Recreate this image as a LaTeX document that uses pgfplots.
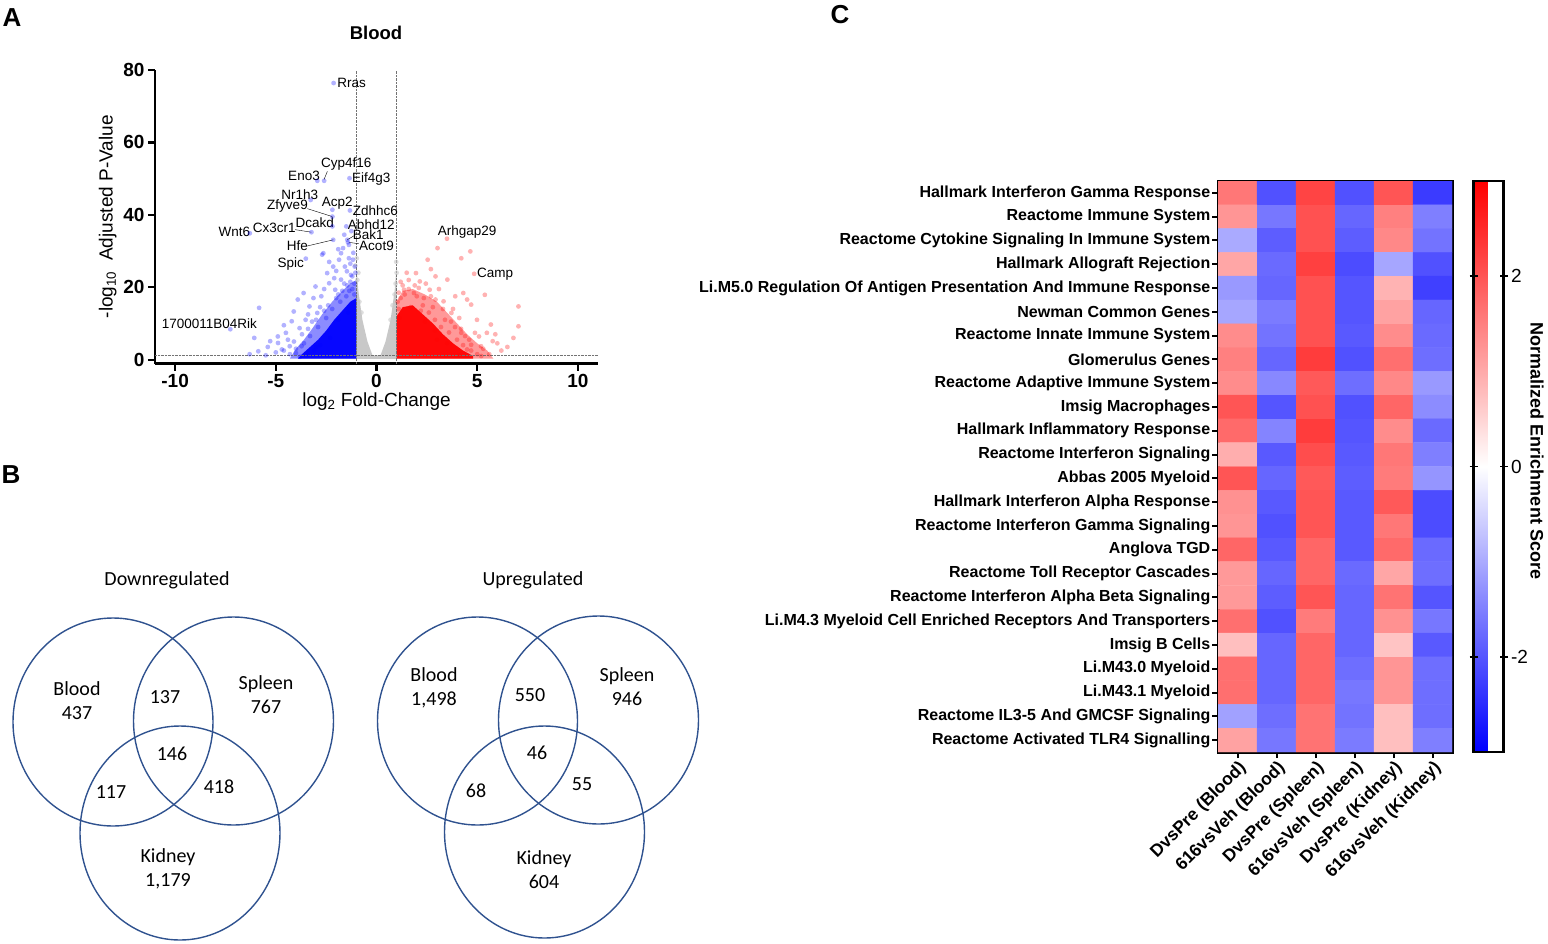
\documentclass[border=0pt]{standalone}
\usepackage{fontspec}
\setmainfont{Liberation Sans}
\newfontfamily\venn{Carlito}
\usepackage{pgfplots}
\pgfplotsset{compat=1.18}
\definecolor{vennblue}{RGB}{47,82,143}
\definecolor{nsgray}{RGB}{200,200,200}
\pgfplotsset{colormap={bwr}{rgb255=(0,0,255) rgb255=(255,255,255) rgb255=(255,0,0)}}
\newcommand{\gl}{\fontsize{13.5}{14}\selectfont}
\begin{document}
\begin{tikzpicture}
\useasboundingbox (0pt,0pt) rectangle (1548pt,-943pt);

% ---------- A: volcano plot ----------
\begin{axis}[
  at={(155pt,-363.6pt)}, anchor=south west,
  scale only axis, width=443pt, height=293.6pt,
  xmin=-11, xmax=11, ymin=-1.1, ymax=80,
  axis x line*=bottom, axis y line*=left,
  axis line style={line width=2.6pt},
  xtick={-10,-5,0,5,10}, xticklabels={-10,-5,0,5,10},
  ytick={0,20,40,60,80}, yticklabels={0,20,40,60,80},
  tick align=outside, major tick length=7pt,
  tick style={line width=2.2pt, black},
  ticklabel style={font=\bfseries\fontsize{19}{19}\selectfont},
  xlabel={log\textsubscript{2} Fold-Change},
  ylabel={-log\textsubscript{10}\ \ Adjusted P-Value},
  label style={font=\fontsize{19}{21}\selectfont},
  xlabel style={yshift=2pt},
  clip=false,
]
\addplot[fill=nsgray, draw=none] coordinates {(-1,0.2) (-1,26) (-0.9,19) (-0.7,11) (-0.45,5) (-0.2,1.2) (0.2,1.2) (0.45,5) (0.7,11) (0.9,19) (1,26) (1,0.2)} -- cycle;
\addplot[only marks, mark=*, mark size=2.4pt, nsgray, mark options={draw opacity=0, fill opacity=0.6}] coordinates {
(-1.05,26) (-0.95,22) (-0.9,24) (1.0,24) (0.95,21) (0.9,18) (-0.85,16) (0.8,15) (-0.75,13) (0.7,11) (-0.98,28) (0.98,27)};
% dense cores: a translucent halo, then a saturated centre
\addplot[fill=blue, draw=none, fill opacity=0.45] coordinates {(-1,0.3) (-1,22) (-1.3,21) (-1.7,19) (-2.2,16) (-2.7,12.5) (-3.2,8.5) (-3.6,5.5) (-4.0,3) (-4.3,0.3)} -- cycle;
\addplot[fill=blue, draw=none, fill opacity=0.95] coordinates {(-1,0.3) (-1,17) (-1.3,16) (-1.7,13.5) (-2.1,11) (-2.5,8) (-2.9,5.5) (-3.3,3.5) (-3.7,1.5) (-3.9,0.3)} -- cycle;
\addplot[fill=red, draw=none, fill opacity=0.4] coordinates {(1,0.3) (1,16) (1.3,19) (1.8,19.5) (2.4,18) (3.0,16) (3.5,13) (4.0,10) (4.5,7) (5.0,4.5) (5.5,2.5) (5.8,0.3)} -- cycle;
\addplot[fill=red, draw=none, fill opacity=0.95] coordinates {(1,0.3) (1,12) (1.3,14.5) (1.8,15) (2.3,12.5) (2.8,10) (3.3,7) (3.8,4.5) (4.3,2.5) (4.8,1) (4.8,0.3)} -- cycle;
% downregulated genes
\addplot[only marks, mark=*, mark size=2.4pt, blue, mark options={draw opacity=0, fill opacity=0.3}] coordinates {
(-2.13,76.4) (-2.6,49.4) (-2.94,49.4) (-1.34,50.1) (-3.27,44.1) (-2.19,41.4) (-1.32,41.2)
(-2.19,39.5) (-2.19,36.8) (-1.5,36.8) (-6.29,34.9) (-3.23,35.2) (-1.45,33.1) (-2.15,33.1)
(-1.42,32.4) (-3.51,27.9) (-7.26,8.4)
(-5.87,2.3) (-6.07,6.0) (-5.83,14.3) (-5.28,5.1) (-4.89,4.6) (-4.7,2.8) (-4.31,3.7) (-4.5,7.4)
(-4.21,10.6) (-4.11,13.3) (-3.91,16.6) (-3.62,18.4) (-3.82,8.7) (-3.52,11.0) (-3.72,3.7) (-3.33,14.7)
(-3.13,17.0) (-3.03,20.2) (-2.94,12.9) (-2.74,17.5) (-2.64,29.4) (-2.45,23.9) (-2.35,21.1) (-2.15,25.7)
(-2.05,19.3) (-1.86,27.6) (-1.76,22.1) (-1.66,30.8) (-1.57,25.7) (-1.47,24.4) (-1.37,28.0) (-1.27,23.4)
(-1.17,27.6) (-1.08,25.7) (-1.37,31.7) (-1.76,29.4) (-2.7,29) (-4.9,6.4) (-4.0,1.8)
(-1.1,21) (-1.2,19.5) (-1.5,17.5) (-1.8,16) (-2.2,14) (-2.5,11.5) (-2.9,9) (-3.3,6.5) (-3.6,4.5)
(-4.0,3) (-4.3,1.5) (-3.8,0.8) (-1.05,24) (-1.3,21.5) (-1.7,19) (-2.6,13.5) (-3.0,11) (-3.4,8.5)
(-4.4,5.5) (-5.0,2.0) (-5.5,1.2) (-1.9,30.5) (-1.15,29.5) (-2.35,27) (-1.6,21) (-2.0,17) (-3.1,2.5)
(-2.1,22.5) (-1.35,19) (-4.6,9.5) (-5.4,3.5) (-6.3,1.5) (-2.8,4) (-3.4,1.2) (-1.25,35.5) (-1.6,34.5)
(-1.2,23) (-1.45,20.5) (-1.9,18) (-2.4,15) (-2.8,14.5) (-3.2,10.5) (-3.7,7) (-4.1,5) (-4.6,2.5)
(-1.1,18) (-1.4,13) (-1.9,11) (-2.3,6) (-3.0,3.5) (-2.0,24.5) (-1.3,26.5) (-2.6,19.5) (-3.4,12.5)};
% upregulated genes
\addplot[only marks, mark=*, mark size=2.4pt, red, mark options={draw opacity=0, fill opacity=0.3}] coordinates {
(3.5,33.4) (4.85,23.7)
(3.03,30.8) (4.21,28.0) (4.66,29.9) (2.54,27.6) (2.93,23.0) (1.96,23.9) (1.37,19.3) (2.15,21.6)
(3.52,22.1) (4.31,18.4) (5.38,17.9) (7.05,14.7) (7.05,9.2) (5.68,9.7) (5.77,5.1) (5.19,3.7)
(4.89,7.4) (4.7,15.2) (4.5,16.6) (3.91,17.5) (3.33,16.1) (4.11,11.5) (5.09,6.4) (5.48,7.4)
(4.5,2.8) (3.72,12.9) (2.64,19.3) (1.86,18.4) (2.35,17.0) (2.93,16.6) (4.7,4.1) (4.21,7.4) (4.99,11.0)
(1.1,14) (1.2,17) (1.4,18) (1.6,19.5) (2.0,17.5) (2.3,15) (2.6,13) (2.9,11) (3.2,9) (3.6,7.5)
(4.0,5.5) (4.3,4) (4.7,2.5) (5.0,1.5) (1.9,20.5) (2.8,14.5) (3.4,11) (3.9,9) (4.4,6.5) (5.3,3)
(5.6,1.5) (6.0,4.5) (1.2,21.5) (1.5,24) (3.1,19.5) (3.8,14) (6.2,2.5) (5.9,7) (1.05,16) (2.4,10.5)
(1.15,11.5) (3.0,5.5) (4.1,1.2) (2.7,25) (1.7,14.5)
(1.3,20.5) (2.1,19.8) (2.7,17.5) (3.3,14) (3.7,10.5) (4.2,8.5) (4.6,5.5) (5.2,1) (1.1,18.5)
(2.2,13.5) (2.9,8) (3.5,4.5) (6.5,3.5) (6.8,6) (1.6,22) (2.45,21)};
\draw[densely dotted, black!55] (axis cs:-1,-1.1) -- (axis cs:-1,80);
\draw[densely dotted, black!55] (axis cs:1,-1.1) -- (axis cs:1,80);
\draw[densely dotted, black!55] (axis cs:-11,1.3) -- (axis cs:11,1.3);
% gene labels
\node[font=\gl] at (axis cs:-1.24,76.4) {Rras};
\node[font=\gl] at (axis cs:-1.5,54.1) {Cyp4f16};
\node[font=\gl] at (axis cs:-3.6,50.8) {Eno3};
\node[font=\gl] at (axis cs:-0.26,49.9) {Eif4g3};
\node[font=\gl] at (axis cs:-3.81,45.7) {Nr1h3};
\node[font=\gl] at (axis cs:-1.95,43.2) {Acp2};
\node[font=\gl] at (axis cs:-0.05,41.2) {Zdhhc6};
\node[font=\gl] at (axis cs:-4.42,42.3) {Zfyve9};
\node[font=\gl] at (axis cs:-3.07,37.7) {Dcakd};
\node[font=\gl] at (axis cs:-0.26,37.2) {Abhd12};
\node[font=\gl] at (axis cs:-7.06,35.4) {Wnt6};
\node[font=\gl] at (axis cs:-5.08,36.5) {Cx3cr1};
\node[font=\gl] at (axis cs:-0.41,34.5) {Bak1};
\node[font=\gl] at (axis cs:-3.93,31.4) {Hfe};
\node[font=\gl] at (axis cs:0.0,31.5) {Acot9};
\node[font=\gl] at (axis cs:-4.26,26.5) {Spic};
\node[font=\gl] at (axis cs:-8.3,9.85) {1700011B04Rik};
\node[font=\gl] at (axis cs:4.5,35.3) {Arhgap29};
\node[font=\gl] at (axis cs:5.89,23.7) {Camp};
\draw (axis cs:-2.44,52.0) -- (axis cs:-2.61,49.7);
\draw (axis cs:-3.43,41.7) -- (axis cs:-2.19,39.5);
\draw (axis cs:-4.04,35.9) -- (axis cs:-3.23,35.2);
\draw (axis cs:-3.43,31.4) -- (axis cs:-2.14,33.1);
\draw (axis cs:-1.45,33.1) -- (axis cs:-1.12,34.2);
\draw (axis cs:-1.37,32.4) -- (axis cs:-0.88,32.0);
\end{axis}
\node[font=\bfseries\fontsize{18.5}{18.5}\selectfont] at (376pt,-33pt) {Blood};

% ---------- B: Venn diagrams ----------
\begin{axis}[
  at={(0pt,-943pt)}, anchor=south west,
  scale only axis, width=720pt, height=383pt,
  xmin=0, xmax=720, ymin=-943, ymax=-560,
  hide axis, clip=false,
]
\draw[vennblue, line width=1.4pt] (axis cs:113,-722) ellipse [x radius=100, y radius=104];
\draw[vennblue, line width=1.4pt] (axis cs:233.5,-721) ellipse [x radius=100, y radius=104];
\draw[vennblue, line width=1.4pt] (axis cs:180,-833) ellipse [x radius=100, y radius=107];
\draw[vennblue, line width=1.4pt] (axis cs:477.5,-721) ellipse [x radius=100, y radius=104];
\draw[vennblue, line width=1.4pt] (axis cs:598.5,-720) ellipse [x radius=100, y radius=104];
\draw[vennblue, line width=1.4pt] (axis cs:544.5,-832) ellipse [x radius=100, y radius=106];
\begin{scope}[every node/.style={font=\venn\fontsize{20}{24}\selectfont, align=center}]
\node at (axis cs:167,-580) {Downregulated};
\node at (axis cs:533,-580) {Upregulated};
\node at (axis cs:77,-701) {Blood\\437};
\node at (axis cs:165,-697) {137};
\node at (axis cs:266,-695) {Spleen\\767};
\node at (axis cs:172,-754) {146};
\node at (axis cs:111,-792) {117};
\node at (axis cs:219,-787) {418};
\node at (axis cs:168,-869) {Kidney\\1,179};
\node at (axis cs:434,-688) {Blood\\1,498};
\node at (axis cs:530,-695) {550};
\node at (axis cs:627,-687) {Spleen\\946};
\node at (axis cs:537,-753) {46};
\node at (axis cs:476,-791) {68};
\node at (axis cs:582,-784) {55};
\node at (axis cs:544,-870) {Kidney\\604};
\end{scope}
\end{axis}

% ---------- C: heatmap ----------
\begin{axis}[
  at={(1218pt,-752pt)}, anchor=south west,
  scale only axis, width=234pt, height=571pt,
  xmin=-0.5, xmax=5.5, ymin=-0.5, ymax=23.5, y dir=reverse,
  xtick={0,...,5}, ytick={0,...,23},
  xticklabels={DvsPre (Blood),616vsVeh (Blood),DvsPre (Spleen),616vsVeh (Spleen),DvsPre (Kidney),616vsVeh (Kidney)},
  yticklabels={Hallmark Interferon Gamma Response,Reactome Immune System,Reactome Cytokine Signaling In Immune System,Hallmark Allograft Rejection,Li.M5.0 Regulation Of Antigen Presentation And Immune Response,Newman Common Genes,Reactome Innate Immune System,Glomerulus Genes,Reactome Adaptive Immune System,Imsig Macrophages,Hallmark Inflammatory Response,Reactome Interferon Signaling,Abbas 2005 Myeloid,Hallmark Interferon Alpha Response,Reactome Interferon Gamma Signaling,Anglova TGD,Reactome Toll Receptor Cascades,Reactome Interferon Alpha Beta Signaling,Li.M4.3 Myeloid Cell Enriched Receptors And Transporters,Imsig B Cells,Li.M43.0 Myeloid,Li.M43.1 Myeloid,Reactome IL3-5 And GMCSF Signaling,Reactome Activated TLR4 Signalling},
  y tick label style={font=\bfseries\fontsize{16}{16}\selectfont, inner sep=1.5pt},
  x tick label style={font=\bfseries\fontsize{17.5}{17.5}\selectfont, rotate=45, anchor=north east, inner sep=1pt},
  xtick pos=bottom, ytick pos=left,
  tick align=outside, major tick length=6pt,
  tick style={line width=2pt, black},
  axis line style={line width=3pt},
  colormap name=bwr, point meta min=-3, point meta max=3,
  colorbar,
  colorbar style={
    at={(parent axis.north east)}, anchor=north west, xshift=13pt,
    width=30pt, ytick={-2,0,2}, yticklabels={-2,0,2},
    ytick pos=both, yticklabel pos=right,
    ticklabel style={font=\fontsize{19}{19}\selectfont},
    yticklabel style={font=\fontsize{19}{19}\selectfont},
    axis line style={line width=2.5pt},
    tick align=center, major tick length=8pt,
    tick style={line width=1.5pt, black},
  },
]
\addplot[matrix plot*, mesh/cols=6, point meta=explicit] coordinates {
(0,0)[1.6] (1,0)[-2.05] (2,0)[2.2] (3,0)[-2.05] (4,0)[2.0] (5,0)[-2.3]
(0,1)[1.25] (1,1)[-1.6] (2,1)[2.05] (3,1)[-1.8] (4,1)[1.5] (5,1)[-1.5]
(0,2)[-1.0] (1,2)[-1.9] (2,2)[2.05] (3,2)[-1.9] (4,2)[1.4] (5,2)[-1.65]
(0,3)[1.05] (1,3)[-1.75] (2,3)[2.25] (3,3)[-2.1] (4,3)[-1.05] (5,3)[-2.05]
(0,4)[-1.2] (1,4)[-1.8] (2,4)[2.05] (3,4)[-2.0] (4,4)[0.9] (5,4)[-2.25]
(0,5)[-1.05] (1,5)[-1.55] (2,5)[2.05] (3,5)[-2.0] (4,5)[1.1] (5,5)[-1.8]
(0,6)[1.35] (1,6)[-1.65] (2,6)[2.05] (3,6)[-1.95] (4,6)[1.35] (5,6)[-1.75]
(0,7)[1.5] (1,7)[-1.8] (2,7)[2.3] (3,7)[-2.05] (4,7)[1.7] (5,7)[-1.7]
(0,8)[1.35] (1,8)[-1.4] (2,8)[1.95] (3,8)[-1.7] (4,8)[1.4] (5,8)[-1.2]
(0,9)[2.0] (1,9)[-2.0] (2,9)[2.05] (3,9)[-2.05] (4,9)[1.8] (5,9)[-1.35]
(0,10)[1.75] (1,10)[-1.45] (2,10)[2.3] (3,10)[-2.0] (4,10)[1.35] (5,10)[-1.75]
(0,11)[0.95] (1,11)[-1.95] (2,11)[2.1] (3,11)[-1.95] (4,11)[1.6] (5,11)[-1.5]
(0,12)[2.0] (1,12)[-1.8] (2,12)[1.95] (3,12)[-1.9] (4,12)[1.55] (5,12)[-1.25]
(0,13)[1.3] (1,13)[-1.95] (2,13)[2.0] (3,13)[-1.95] (4,13)[1.95] (5,13)[-2.1]
(0,14)[1.25] (1,14)[-2.05] (2,14)[2.0] (3,14)[-1.95] (4,14)[1.6] (5,14)[-2.1]
(0,15)[1.8] (1,15)[-1.95] (2,15)[1.8] (3,15)[-1.95] (4,15)[1.75] (5,15)[-1.75]
(0,16)[1.2] (1,16)[-1.8] (2,16)[1.8] (3,16)[-1.75] (4,16)[1.05] (5,16)[-1.7]
(0,17)[1.2] (1,17)[-1.9] (2,17)[2.0] (3,17)[-1.8] (4,17)[1.65] (5,17)[-2.0]
(0,18)[1.7] (1,18)[-2.05] (2,18)[1.55] (3,18)[-1.8] (4,18)[1.3] (5,18)[-1.6]
(0,19)[0.75] (1,19)[-1.8] (2,19)[1.8] (3,19)[-1.8] (4,19)[0.7] (5,19)[-1.95]
(0,20)[1.7] (1,20)[-1.8] (2,20)[1.8] (3,20)[-1.7] (4,20)[1.25] (5,20)[-1.7]
(0,21)[1.7] (1,21)[-1.8] (2,21)[1.8] (3,21)[-1.6] (4,21)[1.25] (5,21)[-1.7]
(0,22)[-1.1] (1,22)[-1.7] (2,22)[1.65] (3,22)[-1.65] (4,22)[0.75] (5,22)[-1.7]
(0,23)[1.1] (1,23)[-1.6] (2,23)[1.65] (3,23)[-1.55] (4,23)[0.75] (5,23)[-1.5]
};
\end{axis}
\node[rotate=-90, font=\bfseries\fontsize{18}{18}\selectfont] at (1537pt,-451pt) {Normalized Enrichment Score};

% panel letters
\node[font=\bfseries\fontsize{26}{26}\selectfont] at (12pt,-18pt) {A};
\node[font=\bfseries\fontsize{26}{26}\selectfont] at (11pt,-475pt) {B};
\node[font=\bfseries\fontsize{26}{26}\selectfont] at (840pt,-15pt) {C};
\end{tikzpicture}
\end{document}
